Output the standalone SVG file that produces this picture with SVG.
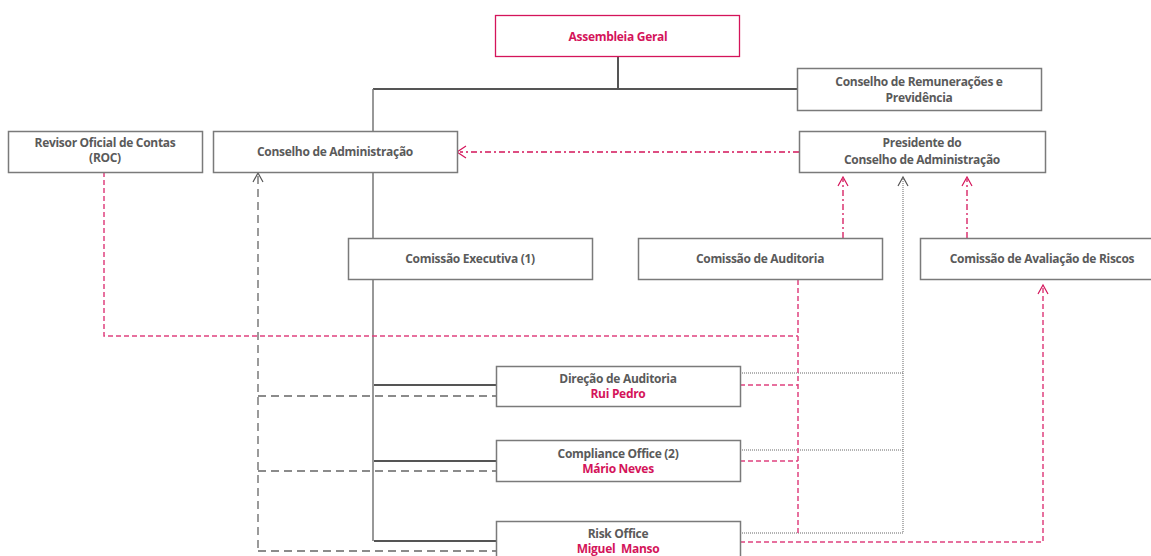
<svg xmlns="http://www.w3.org/2000/svg" width="1151" height="556" viewBox="0 0 1151 556">
<defs>
<style>
.box{fill:#fff;stroke:#7a7a7a;stroke-width:1.5}
.pbox{fill:#fff;stroke:#d4145a;stroke-width:1.3}
.t{font-family:"Open Sans","Noto Sans",sans-serif;font-weight:700;font-size:12px;fill:#5a5a5a;text-anchor:middle;letter-spacing:-0.3px}
.p{fill:#d4145a}
.solid{stroke:#555;stroke-width:2;fill:none}
.trunk{stroke:#777;stroke-width:1.5;fill:none}
.pdash{stroke:#e0427f;stroke-width:1.5;stroke-dasharray:5 3;fill:none}
.pdd{stroke:#d4145a;stroke-width:1.3;stroke-dasharray:6 3 2 3;fill:none}
.gdash{stroke:#666;stroke-width:1.3;stroke-dasharray:8 5;fill:none}
.gdot{stroke:#666;stroke-width:1;stroke-dasharray:1 1;fill:none}
.ap{stroke:#d4145a;stroke-width:1.2;fill:none}
.ag{stroke:#555;stroke-width:1.2;fill:none}
</style>
</defs>
<g id="connectors">
<path class="solid" d="M618 56V89"/>
<path class="solid" d="M373 89H797"/>
<path class="trunk" d="M373 89V131M373 172V238M373 279V541"/>
<path class="solid" d="M374 385H496M374 461H496M374 541H496"/>
<path class="gdash" d="M258 176V551M258 396H496M258 471H496M258 551H496"/>
<path class="ag" d="M253 182L258 173L263 182"/>
<path class="pdd" d="M799 152H460"/>
<path class="ap" d="M466 146L457 152L466 158"/>
<path class="pdd" d="M843 238V179M967 238V179"/>
<path class="ap" d="M838 186L843 177L848 186M962 186L967 177L972 186"/>
<path class="gdot" d="M903 179V533M740 373H903M740 450H903M740 533H903"/>
<path class="ag" d="M898 186L903 177L908 186"/>
<path class="pdash" d="M104 172V336H798M798 280V534M740 385H798M740 461H798M740 542H1043V288"/>
<path class="ap" d="M1038 294L1043 285L1048 294"/>
</g>
<g id="assembleia"><rect class="pbox" x="495.5" y="15.5" width="244" height="41"/><text class="t p" x="618" y="41">Assembleia Geral</text></g>
<g id="remuneracoes"><rect class="box" x="797.5" y="68.5" width="244" height="42"/><text class="t" x="919" y="86">Conselho de Remunerações e</text><text class="t" x="919" y="102">Previdência</text></g>
<g id="roc"><rect class="box" x="8.5" y="131.5" width="194" height="41"/><text class="t" x="105" y="147">Revisor Oficial de Contas</text><text class="t" x="105" y="162">(ROC)</text></g>
<g id="conselho-admin"><rect class="box" x="213.5" y="131.5" width="244" height="41"/><text class="t" x="335" y="156">Conselho de Administração</text></g>
<g id="presidente"><rect class="box" x="799.5" y="131.5" width="246" height="41"/><text class="t" x="922" y="147">Presidente do</text><text class="t" x="922" y="164">Conselho de Administração</text></g>
<g id="comissao-executiva"><rect class="box" x="348.5" y="238.5" width="244" height="41"/><text class="t" x="470" y="263">Comissão Executiva (1)</text></g>
<g id="comissao-auditoria"><rect class="box" x="638.5" y="238.5" width="244" height="41"/><text class="t" x="760" y="263">Comissão de Auditoria</text></g>
<g id="comissao-riscos"><rect class="box" x="920.5" y="238.5" width="244" height="41"/><text class="t" x="1042" y="263">Comissão de Avaliação de Riscos</text></g>
<g id="direcao-auditoria"><rect class="box" x="496.5" y="366.5" width="244" height="40"/><text class="t" x="618" y="383">Direção de Auditoria</text><text class="t p" x="618" y="398">Rui Pedro</text></g>
<g id="compliance"><rect class="box" x="496.5" y="440.5" width="244" height="41"/><text class="t" x="618" y="458">Compliance Office (2)</text><text class="t p" x="618" y="473">Mário Neves</text></g>
<g id="risk-office"><rect class="box" x="496.5" y="521.5" width="244" height="40"/><text class="t" x="618" y="538">Risk Office</text><text class="t p" x="618" y="553" xml:space="preserve" style="white-space:pre">Miguel  Manso</text></g>
</svg>
